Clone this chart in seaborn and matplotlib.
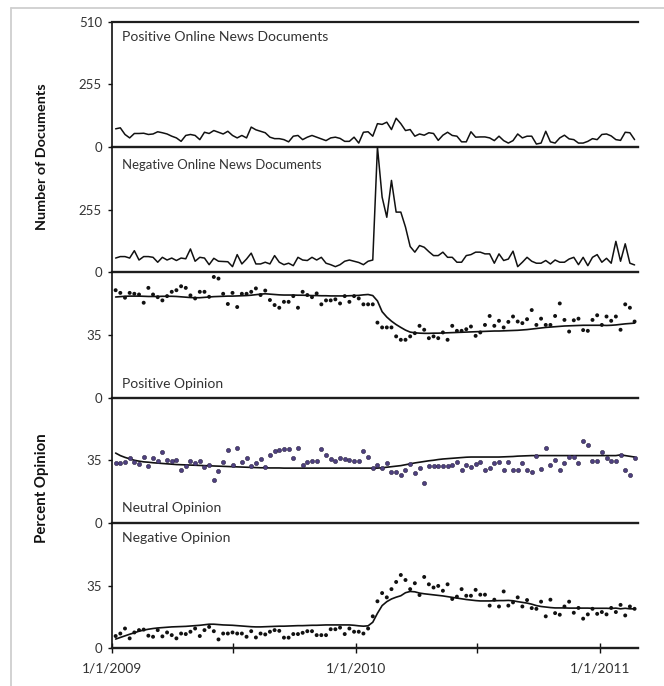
import numpy as np
import pandas as pd
import matplotlib
matplotlib.use('Agg')
import matplotlib.pyplot as plt
import seaborn as sns
from matplotlib.lines import Line2D

# ---------------- data ----------------
start_date = '2009-01-06'
n_weeks = 112
dates = pd.date_range(start_date, periods=n_weeks, freq='7D')

pos_docs = [74, 78, 51, 37, 55, 55, 56, 51, 53, 62, 58, 53, 44, 37, 23, 47, 51, 47, 30, 60,
            55, 67, 60, 53, 64, 47, 37, 47, 37, 81, 70, 64, 58, 40, 34, 34, 30, 21, 44, 47,
            30, 40, 47, 40, 33, 26, 37, 40, 35, 23, 23, 40, 16, 60, 62, 44, 95, 92, 101, 71,
            117, 95, 67, 71, 44, 53, 48, 58, 55, 27, 48, 60, 47, 44, 21, 21, 62, 40, 41, 41,
            37, 26, 44, 26, 16, 26, 53, 37, 44, 44, 12, 16, 64, 21, 16, 37, 48, 33, 30, 16,
            16, 23, 34, 30, 51, 53, 45, 30, 27, 60, 58, 30]
neg_docs = [58, 64, 64, 58, 88, 50, 64, 64, 61, 41, 61, 50, 58, 48, 58, 55, 95, 45, 61, 58,
            31, 57, 45, 44, 43, 23, 72, 34, 54, 78, 34, 34, 41, 34, 68, 41, 31, 37, 27, 61,
            50, 48, 61, 50, 61, 37, 31, 23, 31, 45, 50, 45, 40, 31, 45, 50, 510, 306, 224, 374,
            245, 245, 184, 105, 82, 109, 102, 84, 68, 68, 82, 61, 61, 41, 41, 68, 72, 82, 82, 75,
            75, 37, 75, 48, 54, 86, 23, 41, 61, 45, 37, 37, 48, 34, 50, 41, 41, 54, 61, 31,
            61, 27, 61, 72, 41, 57, 37, 126, 45, 116, 37, 30]

pos_op = [60.0, 58.5, 55.8, 58.5, 58.0, 57.6, 53.0, 61.3, 57.6, 56.1,
          54.3, 56.7, 59.1, 60.0, 62.2, 61.3, 57.1, 55.4, 59.1, 59.1,
          56.3, 67.4, 66.5, 58.0, 52.3, 58.5, 50.6, 58.0, 58.0, 59.1,
          61.0, 57.3, 59.8, 54.5, 51.7, 50.2, 53.5, 53.5, 56.7, 50.2,
          59.1, 57.3, 56.1, 58.2, 52.1, 54.3, 54.3, 54.9, 52.6, 56.7,
          53.5, 56.7, 55.4, 52.1, 52.1, 52.1, 41.9,
          39.2, 39.2, 39.2, 34.2, 32.3, 32.3, 34.2, 36.0, 40.1, 37.9,
          33.2, 34.2, 33.2, 36.4, 32.3, 40.1, 37.3, 37.3, 38.2, 39.7,
          34.5, 36.4, 40.6, 45.6, 40.1, 42.9, 39.2, 42.3, 45.3, 42.5,
          41.6, 43.8, 48.9, 40.6, 44.1, 40.6, 40.6, 45.6, 52.6, 43.4,
          36.9, 43.2, 44.1, 37.7, 37.3, 43.4, 46.0, 40.6, 45.3, 42.9,
          45.3, 37.9, 52.1, 50.2, 42.5]
pos_trend = [56.2, 56.4, 56.6, 56.7, 56.7, 56.7, 56.6, 56.5,
             56.5, 56.5, 56.6, 56.6, 56.6, 56.5, 56.3,
             56.1, 55.9, 55.8, 55.8, 56.0, 56.2, 56.4,
             56.5, 56.6, 56.7, 56.7, 56.8, 56.9, 57.0, 57.2,
             57.5, 57.8, 58.0, 57.8, 57.6,
             57.4, 57.3, 57.3, 57.3, 57.2, 57.2, 57.1,
             57.0, 57.0, 56.9, 56.9, 56.8, 56.8, 56.8, 56.8,
             56.9, 57.0, 57.1, 57.4, 57.6, 57.0,
             54.0, 48.0, 45.0, 42.7, 40.8, 39.2, 37.7, 36.6,
             36.2, 36.0, 35.9, 35.9, 36.0, 36.0, 36.1,
             36.2, 36.3, 36.4, 36.5, 36.6, 36.7, 36.8, 36.9, 37.0,
             37.1, 37.2, 37.2, 37.3, 37.4, 37.5, 37.6, 37.8, 38.0, 38.3,
             38.6, 38.9, 39.2, 39.4, 39.6, 39.8, 40.0, 40.1, 40.2, 40.3,
             40.4, 40.4, 40.4, 40.4, 40.4, 40.3, 40.4, 40.6, 40.9, 41.2, 41.4, 41.6]

neu_op = [33.5, 33.5, 33.9, 36.5, 34.3, 33.0, 37.0, 32.0, 36.5, 34.8,
          39.4, 35.2, 34.8, 35.2, 29.8, 31.7, 34.4, 33.5, 34.4, 31.1,
          32.6, 23.7, 28.9, 33.9, 40.7, 32.6, 41.7, 33.9, 36.3, 32.0,
          33.3, 35.6, 31.5, 38.0, 40.2, 40.7, 41.1, 41.5, 36.3, 41.7,
          32.6, 33.9, 34.4, 34.8, 41.3, 38.2, 35.7, 34.8, 36.1, 35.7,
          35.4, 34.8, 34.8, 40.0, 36.7, 30.9, 32.6,
          30.9, 33.3, 28.7, 28.7, 26.5, 29.3, 33.0, 27.8, 30.7, 22.4,
          31.7, 31.7, 31.7, 31.7, 32.0, 32.4, 33.9, 29.3, 32.4, 31.1,
          33.0, 33.9, 29.8, 30.7, 33.3, 34.3, 29.3, 34.3, 29.3, 29.3,
          33.3, 29.3, 28.3, 37.6, 30.2, 41.7, 32.6, 35.2, 29.3, 33.3,
          37.0, 36.7, 33.3, 45.9, 43.7, 34.4, 34.8, 39.4, 36.1, 34.8,
          34.8, 38.2, 29.8, 26.9, 36.1]
neu_trend = [39.0, 37.6, 36.6, 35.8, 35.0, 34.5, 34.1, 33.9, 33.6, 33.4, 33.2,
             33.0, 32.8, 32.6, 32.5, 32.4, 32.3, 32.2, 32.1, 32.0, 31.9,
             31.8, 31.7, 31.6, 31.5, 31.4, 31.3, 31.2, 31.1,
             31.0, 30.9, 30.8, 30.8, 30.7, 30.7, 30.7, 30.6,
             30.6, 30.6, 30.6, 30.6, 30.6, 30.6, 30.6, 30.6, 30.6, 30.6,
             30.6, 30.6, 30.6, 30.6, 30.6, 30.6, 30.6, 30.6, 30.6, 30.6,
             30.8, 31.1, 31.4, 31.7, 32.0, 32.5, 33.0, 33.5, 33.9, 34.3, 34.7, 35.0, 35.4, 35.7,
             35.9, 36.1, 36.3, 36.5, 36.7, 36.8, 36.8, 36.8, 36.8, 36.8, 36.8, 36.8, 36.9, 37.0,
             37.1, 37.3, 37.4, 37.5,
             37.6, 37.6, 37.6, 37.6, 37.6, 37.6, 37.6, 37.6, 37.6, 37.6,
             37.6, 37.6, 37.6, 37.6, 37.6, 37.6, 37.6, 37.6, 37.6, 38.0, 37.6, 37.2, 36.8]

neg_op = [6.8, 8.2, 11.0, 5.5, 8.8, 10.1, 10.4, 7.0, 6.4, 10.1,
          6.6, 8.8, 7.3, 5.5, 8.2, 7.9, 9.2, 11.0, 6.8, 10.1,
          11.9, 9.5, 4.9, 8.2, 8.2, 8.8, 8.2, 8.2, 6.4, 9.5,
          6.0, 8.2, 7.7, 9.2, 10.1, 9.7, 5.9, 5.9, 7.9, 7.9,
          8.6, 9.5, 9.5, 7.3, 7.3, 7.3, 10.6, 10.6, 11.5, 7.9,
          11.0, 9.2, 9.2, 8.2, 11.0, 17.8, 26.2,
          30.8, 28.4, 33.0, 37.0, 40.9, 38.1, 33.0, 36.3, 29.7, 39.8,
          35.7, 33.9, 34.8, 32.1, 35.7, 27.5, 28.8, 33.0, 29.3, 29.3,
          32.6, 29.9, 29.9, 23.8, 27.1, 23.3, 31.7, 23.8, 25.6, 28.4,
          23.3, 26.9, 22.4, 22.0, 26.0, 17.8, 27.1, 19.6, 18.7, 23.3,
          26.0, 19.8, 22.5, 16.5, 18.9, 22.0, 19.2, 20.2, 18.9, 22.5,
          20.2, 24.2, 18.3, 23.3, 22.0]
neg_trend = [5.1, 6.0, 6.9, 7.8, 8.6, 9.5, 10.1, 10.6, 11.0, 11.3,
             11.5, 11.7, 11.9, 12.0, 12.1, 12.2, 12.4, 12.6, 12.8, 13.1,
             13.4, 13.4, 13.2, 13.0, 12.9, 12.8, 12.6, 12.4, 12.2, 12.0,
             11.9, 11.9, 12.0, 12.1, 12.2, 12.3, 12.3, 12.4, 12.5, 12.6,
             12.6, 12.7, 12.8, 12.8, 12.9, 13.0, 13.0, 13.0, 13.0, 13.0,
             13.0, 12.8, 12.5, 12.3, 12.5, 14.5, 19.5, 23.8, 26.0, 27.5,
             28.5, 29.3, 31.0, 31.7, 31.5, 30.8, 30.4, 30.1, 29.8, 29.5,
             29.2, 28.8, 28.4, 28.0, 27.6, 27.2, 26.9, 26.6, 26.4, 26.4,
             26.4, 26.5, 26.6, 26.6, 26.7, 26.5, 26.0, 25.6, 25.2, 24.6,
             23.8, 23.3, 23.0, 22.7, 22.5, 22.5, 22.5, 22.4, 22.4, 22.4,
             22.4, 22.4, 22.3, 22.3, 22.3, 22.3, 22.2, 22.4, 22.0, 22.3, 22.0, 22.0]

panel_titles = ['Positive Online News Documents', 'Negative Online News Documents',
                'Positive Opinion', 'Neutral Opinion', 'Negative Opinion']
doc_ticks = [0, 255, 510]
op_ticks = [0, 35, 70]
x_tick_dates = ['2009-01-01', '2009-07-01', '2010-01-01', '2010-07-01', '2011-01-01']
x_tick_labels = ['1/1/2009', '', '1/1/2010', '', '1/1/2011']
ylabel_docs = 'Number of Documents'
ylabel_op = 'Percent Opinion'

# ---------------- style / layout ----------------
sns.set_theme(style='white')
plt.rcParams['font.family'] = ['Lato', 'DejaVu Sans']
TXT = '#333333'

W, H = 664, 686
fig = plt.figure(figsize=(W / 100, H / 100), dpi=100)
L_px, R_px = 112.3, 638.3
top0, ph = 21.7, 125.3
axes = []
for i in range(5):
    t = top0 + i * ph
    ax = fig.add_axes([L_px / W, 1 - (t + ph) / H, (R_px - L_px) / W, ph / H])
    ax.set_facecolor('none')
    axes.append(ax)

xmin = pd.Timestamp('2009-01-01')
xmax = pd.Timestamp('2011-02-27 14:00')

df = pd.DataFrame({'date': dates, 'pos_docs': pos_docs, 'neg_docs': neg_docs,
                   'pos_op': pos_op, 'pos_trend': pos_trend,
                   'neu_op': neu_op, 'neu_trend': neu_trend,
                   'neg_op': neg_op, 'neg_trend': neg_trend})

# documents panels
sns.lineplot(data=df, x='date', y='pos_docs', ax=axes[0], color='#111111', lw=1.1)
sns.lineplot(data=df, x='date', y='neg_docs', ax=axes[1], color='#111111', lw=1.1)

# opinion panels
dot_cols = {'pos_op': '#111111', 'neu_op': '#4e4080', 'neg_op': '#111111'}
for ax, dcol, tcol in zip(axes[2:], ['pos_op', 'neu_op', 'neg_op'],
                          ['pos_trend', 'neu_trend', 'neg_trend']):
    sns.lineplot(data=df, x='date', y=tcol, ax=ax, color='#111111', lw=1.2, zorder=2)
    if dcol == 'neu_op':
        sns.scatterplot(data=df, x='date', y=dcol, ax=ax, color=dot_cols[dcol], s=9,
                        edgecolor='#2a2240', linewidth=0.4, zorder=3)
    else:
        sns.scatterplot(data=df, x='date', y=dcol, ax=ax, color=dot_cols[dcol], s=8,
                        edgecolor='none', linewidth=0, zorder=3)

for i, ax in enumerate(axes):
    ax.set_xlim(xmin, xmax)
    if i < 2:
        ax.set_ylim(0, 510)
        ax.set_yticks(doc_ticks if i == 0 else doc_ticks[:2])
        ax.set_yticklabels([str(v) for v in (doc_ticks if i == 0 else doc_ticks[:2])])
    else:
        ax.set_ylim(0, 70)
        ax.set_yticks(op_ticks[:2])
        ax.set_yticklabels([str(v) for v in op_ticks[:2]])
    ax.set_xlabel('')
    ax.set_ylabel('')
    ax.spines['right'].set_visible(False)
    ax.spines['top'].set_visible(i == 0)
    ax.spines['top'].set_color('#1e1e1e')
    ax.spines['top'].set_linewidth(1.6)
    ax.spines['bottom'].set_color('#1e1e1e')
    ax.spines['bottom'].set_linewidth(1.7)
    ax.spines['left'].set_color('#111111')
    ax.spines['left'].set_linewidth(1.2)
    ax.tick_params(axis='y', direction='out', length=3, width=1, color='#111111',
                   pad=4.5, labelcolor=TXT, labelsize=9, left=True)
    if i < 4:
        ax.set_xticks([])
    else:
        ax.set_xticks(pd.to_datetime(x_tick_dates))
        ax.set_xticklabels(x_tick_labels)
        ax.tick_params(axis='x', direction='inout', length=7, width=1, color='#111111',
                       pad=7, labelcolor=TXT, labelsize=10, bottom=True)
    ax.grid(False)
    if ax.get_legend() is not None:
        ax.get_legend().remove()

# panel titles
title_pos = [0.875, 0.856, 0.108, 0.117, 0.877]
title_w = [207, 200, 102, 100, 108.7]
titles = []
for ax, ttl, yy in zip(axes, panel_titles, title_pos):
    titles.append(ax.text(0.018, yy, ttl, transform=ax.transAxes, ha='left', va='center',
                          fontsize=9, color=TXT))

yl1 = fig.text(42 / W, 1 - 156.5 / H, ylabel_docs, rotation=90, ha='center', va='center',
               fontsize=9, fontweight='bold', color='#111111')
yl2 = fig.text(42 / W, 1 - 488 / H, ylabel_op, rotation=90, ha='center', va='center',
               fontsize=9, fontweight='bold', color='#111111')

# light outer frame (top and left edges)
fig.add_artist(Line2D([10.5 / W, 1.0], [1 - 7.5 / H, 1 - 7.5 / H], color='#cfcfcf', lw=1.3,
                      transform=fig.transFigure))
fig.add_artist(Line2D([10.5 / W, 10.5 / W], [0.0, 1 - 7.5 / H], color='#cfcfcf', lw=1.3,
                      transform=fig.transFigure))

# fit text sizes to the reference widths
fig.canvas.draw()
rend = fig.canvas.get_renderer()


def fit(t, target, vertical=False):
    bb = t.get_window_extent(rend)
    w = bb.height if vertical else bb.width
    t.set_fontsize(t.get_fontsize() * target / w)


for t, w in zip(titles, title_w):
    fit(t, w)
fit(yl1, 147, vertical=True)
fit(yl2, 110, vertical=True)

lab = axes[4].get_xticklabels()[0]
xs = 10 * 60.5 / lab.get_window_extent(rend).width
lab0 = axes[0].get_yticklabels()[-1]
ys = 9 * 23 / lab0.get_window_extent(rend).width
axes[4].tick_params(axis='x', labelsize=xs)
for ax in axes:
    ax.tick_params(axis='y', labelsize=ys)

fig.savefig('out.png', dpi=100)
